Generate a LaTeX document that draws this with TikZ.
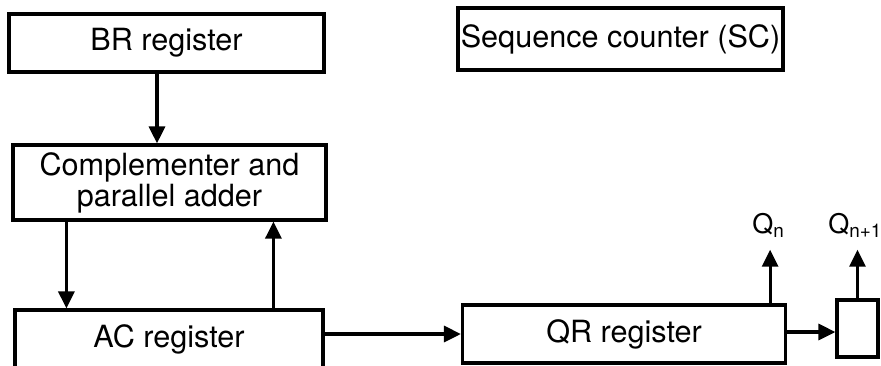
\documentclass[tikz,border=0pt]{standalone}
\usepackage{fontspec}
\setmainfont{TeX Gyre Heros}
\usepackage{tikz}
\usetikzlibrary{arrows.meta,calc,positioning}

\tikzset{
  reg/.style={draw, line width=1.6pt, inner sep=0pt, align=center, font=\fontsize{15.3}{14}\selectfont},
  arr/.style={line width=1.6pt, -{Triangle[length=8.5pt,width=8pt]}},
  lbl/.style={font=\fontsize{13.5}{14}\selectfont, inner sep=0pt}
}

\begin{document}
\begin{tikzpicture}[x=0.5pt,y=-0.5pt]
  \useasboundingbox (0,0) rectangle (881,365);
  % Registers
  \node[reg, minimum width=157.5pt, minimum height=29pt] (br) at (166.5,43) {BR register};
  \node[reg, minimum width=162.5pt, minimum height=31pt] (sc) at (620.5,39) {Sequence counter (SC)};
  \node[reg, minimum width=156.5pt, minimum height=37.5pt] (comp) at (169.5,182.5) {Complementer and\\parallel adder};
  \node[reg, minimum width=154pt, minimum height=29pt] (ac) at (169,339) {AC register};
  \node[reg, minimum width=161.5pt, minimum height=29pt] (qr) at (624,334) {QR register};
  \node[reg, minimum width=20.5pt, minimum height=28.5pt] (bit) at (857.5,328.5) {};
  % Outputs
  \node[lbl, anchor=base west] (qn) at (752,233) {Q\textsubscript{n}};
  \node[lbl, anchor=base west] (qn1) at (828,233) {Q\textsubscript{n+1}};
  % Data paths
  \draw[arr] ([xshift=-4.75pt]br.south) -- ([xshift=-4.75pt]br.south |- comp.north);
  \draw[arr] ([xshift=27.5pt]comp.south west) -- ([xshift=27.5pt]comp.south west |- ac.north);
  \draw[arr] ([xshift=130pt]ac.north west) -- ([xshift=130pt]ac.north west |- comp.south);
  \draw[arr] (ac.east |- qr.west) -- (qr.west);
  \draw[arr] ([yshift=1pt]qr.east) -- ([yshift=1pt]qr.east -| bit.west);
  \draw[arr, shorten >=6pt] ([xshift=-8.5pt]qr.north east) -- ([xshift=-8.5pt]qr.north east |- qn.south);
  \draw[arr, shorten >=6pt] (bit.north) -- (bit.north |- qn1.south);
\end{tikzpicture}
\end{document}
